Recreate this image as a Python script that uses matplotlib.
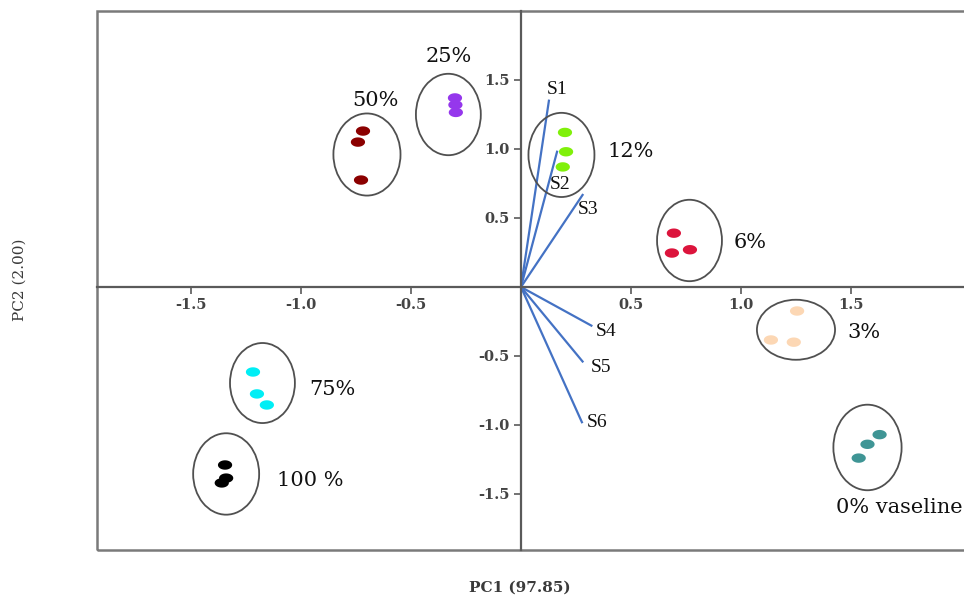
import numpy as np
import matplotlib
matplotlib.use("Agg")
import matplotlib.pyplot as plt
from matplotlib.patches import Ellipse, Rectangle
from matplotlib.path import Path
from matplotlib.markers import MarkerStyle

# ---- data ----
groups = ["50%", "25%", "12%", "6%", "3%", "0% vaseline", "75%", "100 %"]
colors = ["#8b0000", "#9537ec", "#80f00a", "#dc143c", "#fcd7b4", "#3f9595", "#00eef5", "#000000"]

pc1 = [
    [-0.718, -0.741, -0.727],
    [-0.300, -0.298, -0.296],
    [0.200, 0.205, 0.190],
    [0.695, 0.686, 0.768],
    [1.255, 1.136, 1.240],
    [1.630, 1.575, 1.535],
    [-1.218, -1.200, -1.155],
    [-1.345, -1.340, -1.360],
]
pc2 = [
    [1.130, 1.050, 0.775],
    [1.370, 1.320, 1.265],
    [1.120, 0.980, 0.870],
    [0.390, 0.246, 0.270],
    [-0.174, -0.384, -0.400],
    [-1.070, -1.140, -1.240],
    [-0.616, -0.775, -0.855],
    [-1.290, -1.385, -1.420],
]

# cluster ellipses (centre, width, height) in PC units
ell_cx = [-0.700, -0.330, 0.184, 0.766, 1.250, 1.575, -1.175, -1.340]
ell_cy = [0.960, 1.250, 0.957, 0.337, -0.310, -1.163, -0.696, -1.355]
ell_w = [0.305, 0.295, 0.300, 0.295, 0.355, 0.310, 0.295, 0.300]
ell_h = [0.595, 0.590, 0.610, 0.590, 0.435, 0.620, 0.580, 0.590]

# group label positions
lab_x = [-0.66, -0.33, 0.50, 1.04, 1.56, 1.72, -0.855, -0.96]
lab_y = [1.355, 1.67, 0.98, 0.32, -0.33, -1.60, -0.74, -1.40]

# loadings
load_names = ["S1", "S2", "S3", "S4", "S5", "S6"]
load_x = [0.127, 0.164, 0.280, 0.320, 0.280, 0.277]
load_y = [1.350, 0.980, 0.667, -0.280, -0.540, -0.980]
load_lx = [0.164, 0.177, 0.305, 0.385, 0.362, 0.348]
load_ly = [1.430, 0.740, 0.560, -0.320, -0.580, -0.985]

ticks = [-1.5, -1.0, -0.5, 0.5, 1.0, 1.5]
tick_labels = ["-1.5", "-1.0", "-0.5", "0.5", "1.0", "1.5"]

# ---- figure ----
fig = plt.figure(figsize=(9.64, 5.98), dpi=100)
ax = fig.add_axes([97 / 964, 48 / 598, (972 - 97) / 964, (550 - 11) / 598])
ax.set_xlim(-1.927, 2.05)
ax.set_ylim(-1.906, 2.0)

# frame
ax.add_patch(Rectangle((0, 0), 1, 1, transform=ax.transAxes, fill=False,
                       ec="#7a7a7a", lw=1.8, clip_on=False, zorder=1))
for s in ["top", "right"]:
    ax.spines[s].set_visible(False)
ax.spines["left"].set_position(("data", 0))
ax.spines["bottom"].set_position(("data", 0))
for s in ["left", "bottom"]:
    ax.spines[s].set_color("#5a5a5a")
    ax.spines[s].set_linewidth(1.6)

ax.set_xticks(ticks)
ax.set_xticklabels(tick_labels)
ax.set_yticks(ticks)
ax.set_yticklabels(tick_labels)
ax.tick_params(direction="out", length=5, width=1.2, color="#5a5a5a",
               labelsize=10.5, labelcolor="#444444", pad=3)
for lbl in ax.get_xticklabels() + ax.get_yticklabels():
    lbl.set_fontfamily("DejaVu Serif")
    lbl.set_fontweight("bold")

# ellipse marker
t = np.linspace(0, 2 * np.pi, 60)
verts = np.column_stack([np.cos(t), 0.66 * np.sin(t)])
emark = MarkerStyle(Path(verts, closed=True))

for i, g in enumerate(groups):
    ax.scatter(pc1[i], pc2[i], marker=emark, s=105, color=colors[i],
               edgecolors="none", zorder=4)
    ax.add_patch(Ellipse((ell_cx[i], ell_cy[i]), ell_w[i], ell_h[i], fill=False,
                         ec="#505050", lw=1.3, zorder=3))
    ax.text(lab_x[i], lab_y[i], g, fontsize=15, family="DejaVu Serif",
            color="#111111", ha="center", va="center", zorder=5)

for i, n in enumerate(load_names):
    ax.plot([0, load_x[i]], [0, load_y[i]], color="#4472c4", lw=1.6, zorder=2)
    ax.text(load_lx[i], load_ly[i], n, fontsize=14, family="Liberation Serif",
            color="#111111", ha="center", va="center", zorder=5)

fig.text(520 / 964, 1 - 588 / 598, "PC1 (97.85)", ha="center", va="center",
         fontsize=11, family="DejaVu Serif", fontweight="bold", color="#3a3a3a")
fig.text(20 / 964, 1 - 280 / 598, "PC2 (2.00)", ha="center", va="center",
         rotation=90, fontsize=11, family="DejaVu Serif", color="#3a3a3a")

fig.savefig("out.png", dpi=100)
